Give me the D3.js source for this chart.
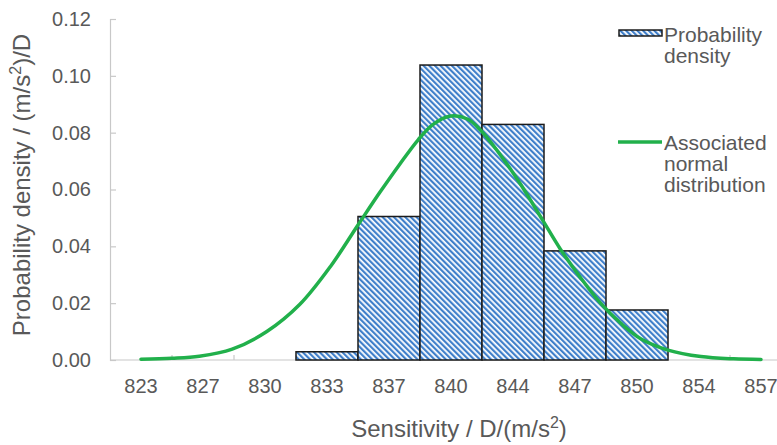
<!DOCTYPE html>
<html>
<head>
<meta charset="utf-8">
<script src="https://cdn.jsdelivr.net/npm/d3@7"></script>
<style>
  html, body { margin: 0; padding: 0; background: #fff; }
  svg { display: block; font-family: "Liberation Sans", Arial, sans-serif; }
</style>
</head>
<body>
<svg id="chart" width="777" height="445"></svg>
<script>
// ---- data ----
const categories = ["823", "827", "830", "833", "837", "840", "844", "847", "850", "854", "857"];
const density    = [0, 0, 0, 0.0029, 0.0505, 0.1038, 0.0829, 0.0384, 0.0176, 0, 0];
const binCenters = [823.1, 826.5, 829.9, 833.3, 836.7, 840.1, 843.5, 846.9, 850.3, 853.7, 857.1];
const normalX = [823.1, 824.8, 826.3, 828.1, 830.0, 831.8, 833.5, 835.0, 836.2, 837.3, 838.3, 839.1, 840.0,
                 841.0, 841.7, 843.0, 843.9, 845.1, 846.1, 847.2, 848.3, 849.4, 850.5, 852.0, 853.8, 855.6, 857.1];
const normalY = [0.0003, 0.0006, 0.0013, 0.0038, 0.0100, 0.0195, 0.0330, 0.0475, 0.0590, 0.0690, 0.0775, 0.0828, 0.0858,
                 0.0848, 0.0810, 0.0705, 0.0620, 0.0495, 0.0390, 0.0290, 0.0200, 0.0130, 0.0075, 0.0035, 0.0012, 0.0004, 0.0002];
const yTicks = [0, 0.02, 0.04, 0.06, 0.08, 0.10, 0.12];
const legendLabels = [["Probability", "density"], ["Associated", "normal", "distribution"]];

// ---- layout ----
const svg = d3.select("#chart");
const plotLeft = 110, plotRight = 792, plotTop = 19, plotBottom = 360;
const textColor = "#595959";
const axisColor = "#c8c8c8";

const x = d3.scaleBand().domain(categories).range([plotLeft, plotRight]).padding(0);
const step = x.bandwidth();
const xLin = d3.scaleLinear()
  .domain([binCenters[0], binCenters[binCenters.length - 1]])
  .range([x(categories[0]) + step / 2, x(categories[categories.length - 1]) + step / 2]);
const y = d3.scaleLinear().domain([0, 0.12]).range([plotBottom, plotTop]);

// hatch pattern
const defs = svg.append("defs");
const pat = defs.append("pattern")
  .attr("id", "hatch")
  .attr("patternUnits", "userSpaceOnUse")
  .attr("width", 4).attr("height", 4)
  .attr("patternTransform", "rotate(-45)");
pat.append("rect").attr("width", 4).attr("height", 4).attr("fill", "#ffffff");
pat.append("rect").attr("width", 2.2).attr("height", 4).attr("fill", "#3f7fca");

// axes
const yAxis = d3.axisLeft(y).tickValues(yTicks).tickFormat(d3.format(".2f")).tickSize(-6).tickPadding(19);
const gy = svg.append("g").attr("transform", `translate(${plotLeft},0)`).call(yAxis);
gy.select(".domain").attr("stroke", axisColor).attr("stroke-width", 1.2);
gy.selectAll(".tick line").attr("stroke", axisColor).attr("stroke-width", 1.2);
gy.selectAll(".tick text").attr("fill", textColor).attr("font-size", 20)
  .attr("font-family", "Liberation Sans, Arial, sans-serif");

const gx = svg.append("g").attr("transform", `translate(0,${plotBottom})`);
gx.append("line").attr("x1", plotLeft).attr("x2", plotRight).attr("y1", 0).attr("y2", 0)
  .attr("stroke", axisColor).attr("stroke-width", 1.2);
gx.selectAll("line.tk").data(categories.slice(1)).join("line").attr("class", "tk")
  .attr("x1", d => x(d)).attr("x2", d => x(d)).attr("y1", 0).attr("y2", -5)
  .attr("stroke", axisColor).attr("stroke-width", 1.2);
gx.selectAll("text").data(categories).join("text")
  .attr("x", d => x(d) + step / 2).attr("y", 33)
  .attr("text-anchor", "middle").attr("fill", textColor).attr("font-size", 20)
  .text(d => d);

// bars
const barData = categories.map((c, i) => ({ c, v: density[i] })).filter(d => d.v > 0);
svg.append("g").selectAll("rect").data(barData).join("rect")
  .attr("x", d => x(d.c)).attr("width", step)
  .attr("y", d => y(d.v)).attr("height", d => y(0) - y(d.v))
  .attr("fill", "url(#hatch)").attr("stroke", "#1b1b1b").attr("stroke-width", 1.5);

// normal curve
const line = d3.line().x(d => xLin(d[0])).y(d => y(d[1])).curve(d3.curveCatmullRom.alpha(0.5));
svg.append("path").datum(normalX.map((v, i) => [v, normalY[i]]))
  .attr("d", line).attr("fill", "none").attr("stroke", "#21b04b")
  .attr("stroke-width", 3.5).attr("stroke-linecap", "round");

// axis titles
svg.append("text").attr("x", 459).attr("y", 437).attr("text-anchor", "middle")
  .attr("fill", textColor).attr("font-size", 24)
  .html('Sensitivity / D/(m/s<tspan dy="-9" font-size="16">2</tspan><tspan dy="9">)</tspan>');
svg.append("text").attr("transform", "translate(30,185) rotate(-90)").attr("text-anchor", "middle")
  .attr("fill", textColor).attr("font-size", 24)
  .html('Probability density / (m/s<tspan dy="-9" font-size="16">2</tspan><tspan dy="9">)/D</tspan>');

// legend
const lg = svg.append("g");
lg.append("rect").attr("x", 619).attr("y", 30).attr("width", 43).attr("height", 6)
  .attr("fill", "url(#hatch)").attr("stroke", "#1b1b1b").attr("stroke-width", 1.5);
lg.append("line").attr("x1", 618).attr("x2", 662).attr("y1", 142).attr("y2", 142)
  .attr("stroke", "#21b04b").attr("stroke-width", 3.5);
const legY = [42, 150];
legendLabels.forEach((lines, k) => {
  lines.forEach((t, j) => {
    lg.append("text").attr("x", 664).attr("y", legY[k] + j * 21)
      .attr("fill", textColor).attr("font-size", 21).text(t);
  });
});
</script>
</body>
</html>
